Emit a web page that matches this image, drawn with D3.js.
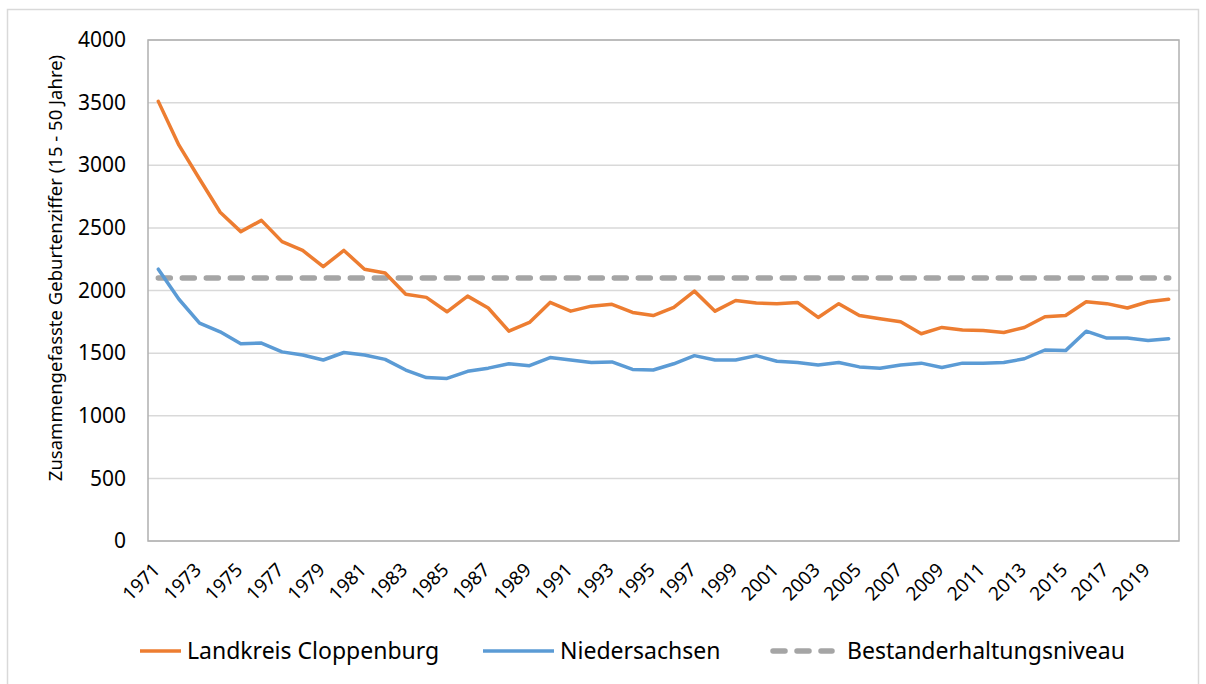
<!DOCTYPE html>
<html>
<head>
<meta charset="utf-8">
<title>Zusammengefasste Geburtenziffer</title>
<style>
  body { margin: 0; background: #fff; }
  svg text { font-family: "Noto Sans", "Open Sans", sans-serif; fill: #000; }
</style>
</head>
<body>
<div id="chart"></div>
<script src="https://cdn.jsdelivr.net/npm/d3@7"></script>
<script>
// years 1971..2020
var years = d3.range(1971, 2021);

var cloppenburg = [3510, 3160, 2890, 2625, 2470, 2560, 2390, 2320, 2190, 2320,
                   2170, 2140, 1970, 1945, 1830, 1955, 1860, 1675, 1745, 1905,
                   1835, 1875, 1890, 1825, 1800, 1865, 1995, 1835, 1920, 1900,
                   1895, 1905, 1785, 1895, 1800, 1775, 1750, 1655, 1705, 1685,
                   1680, 1665, 1705, 1790, 1800, 1910, 1895, 1860, 1910, 1930];

var niedersachsen = [2170, 1930, 1740, 1670, 1575, 1580, 1510, 1485, 1445, 1505,
                     1485, 1450, 1365, 1305, 1298, 1355, 1380, 1415, 1400, 1465,
                     1445, 1425, 1430, 1370, 1365, 1415, 1480, 1445, 1445, 1480,
                     1435, 1425, 1405, 1425, 1390, 1380, 1405, 1420, 1385, 1420,
                     1420, 1425, 1455, 1525, 1520, 1675, 1620, 1620, 1600, 1615];

var bestand = years.map(function() { return 2100; });

var yTicks = [0, 500, 1000, 1500, 2000, 2500, 3000, 3500, 4000];
var xTickYears = years.filter(function(y) { return (y - 1971) % 2 === 0; });

var series = [
  { name: "Landkreis Cloppenburg", values: cloppenburg, color: "#ed7d31", dash: null },
  { name: "Niedersachsen", values: niedersachsen, color: "#5b9bd5", dash: null },
  { name: "Bestanderhaltungsniveau", values: bestand, color: "#a5a5a5", dash: "12 12" }
];

var width = 1206, height = 684;
var plotLeft = 148, plotRight = 1179, plotTop = 40, plotBottom = 541;

var svg = d3.select("#chart").append("svg")
    .attr("width", width)
    .attr("height", height);

// outer frame
svg.append("rect")
    .attr("x", 7.5).attr("y", 9.5)
    .attr("width", 1191).attr("height", 700)
    .attr("fill", "none")
    .attr("stroke", "#d9d9d9")
    .attr("stroke-width", 1.5);

var x = d3.scaleBand().domain(years).range([plotLeft, plotRight]);
var y = d3.scaleLinear().domain([0, 4000]).range([plotBottom, plotTop]);

// gridlines
svg.append("g").selectAll("line")
    .data(yTicks)
    .enter().append("line")
    .attr("x1", plotLeft).attr("x2", plotRight)
    .attr("y1", function(d) { return y(d); })
    .attr("y2", function(d) { return y(d); })
    .attr("stroke", "#d9d9d9")
    .attr("stroke-width", 1.5);

// plot frame
svg.append("rect")
    .attr("x", plotLeft).attr("y", plotTop)
    .attr("width", plotRight - plotLeft).attr("height", plotBottom - plotTop)
    .attr("fill", "none")
    .attr("stroke", "#b0b0b0")
    .attr("stroke-width", 1.5);

// y axis
var yAxis = svg.append("g")
    .attr("transform", "translate(" + plotLeft + ",0)")
    .call(d3.axisLeft(y).tickValues(yTicks).tickFormat(d3.format("d")).tickSize(0).tickPadding(22));
yAxis.select(".domain").remove();
yAxis.selectAll("text")
    .style("font-size", "21px")
    .style("font-family", "'Noto Sans', sans-serif")
    .style("fill", "#000");

// x axis, labels turned 45 degrees
var xAxis = svg.append("g")
    .attr("transform", "translate(0," + plotBottom + ")")
    .call(d3.axisBottom(x).tickValues(xTickYears).tickSize(0).tickPadding(0));
xAxis.select(".domain").remove();
xAxis.selectAll("text")
    .style("font-size", "19px")
    .style("font-family", "'Noto Sans', sans-serif")
    .style("fill", "#000")
    .attr("text-anchor", "end")
    .attr("y", 0)
    .attr("dy", 0)
    .attr("transform", "translate(3,30) rotate(-45)");

// y axis title
svg.append("text")
    .attr("transform", "translate(62,268) rotate(-90)")
    .attr("text-anchor", "middle")
    .style("font-size", "18.5px")
    .text("Zusammengefasste Geburtenziffer (15 - 50 Jahre)");

var line = d3.line()
    .x(function(d, i) { return x(years[i]) + x.bandwidth() / 2; })
    .y(function(d) { return y(d); });

// draw the dashed reference first, then the two series
[series[2], series[1], series[0]].forEach(function(s) {
  svg.append("path")
      .datum(s.values)
      .attr("d", line)
      .attr("fill", "none")
      .attr("stroke", s.color)
      .attr("stroke-width", s.dash ? 5.5 : 3.5)
      .attr("stroke-linejoin", "round")
      .attr("stroke-linecap", "round")
      .attr("stroke-dasharray", s.dash);
});

// legend
var legendX = [140, 483, 770];
var legend = svg.append("g").selectAll("g")
    .data(series)
    .enter().append("g")
    .attr("transform", function(d, i) { return "translate(" + legendX[i] + ",651)"; });

legend.append("line")
    .attr("x1", function(d) { return d.dash ? 3 : 0; })
    .attr("x2", function(d) { return d.dash ? 62 : (d.name === "Niedersachsen" ? 71 : 41); })
    .attr("stroke", function(d) { return d.color; })
    .attr("stroke-width", function(d) { return d.dash ? 5.5 : 3.5; })
    .attr("stroke-linecap", function(d) { return d.dash ? "round" : "butt"; })
    .attr("stroke-dasharray", function(d) { return d.dash ? "12 12" : null; });

legend.append("text")
    .attr("x", function(d) { return d.dash ? 77 : (d.name === "Niedersachsen" ? 77 : 47); })
    .attr("dy", "0.35em")
    .style("font-size", "23px")
    .text(function(d) { return d.name; });
</script>
</body>
</html>
